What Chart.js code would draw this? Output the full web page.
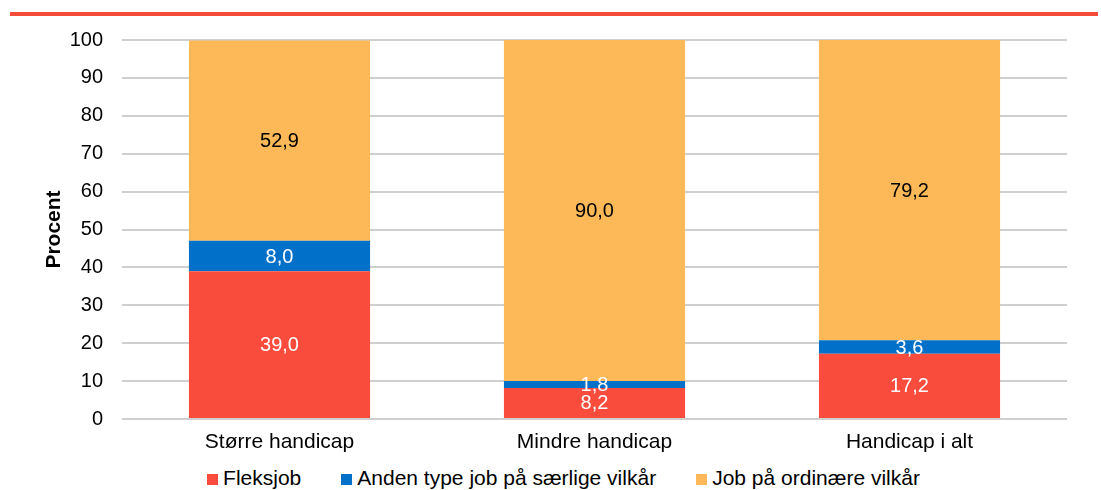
<!DOCTYPE html>
<html>
<head>
<meta charset="utf-8">
<script src="https://cdn.jsdelivr.net/npm/chart.js@4/dist/chart.umd.min.js"></script>
<style>
  html, body { margin: 0; padding: 0; background: #fff; overflow: hidden; }
  body { font-family: 'Liberation Sans', Arial, sans-serif; }
  .topline { position: absolute; left: 10px; top: 12px; width: 1088px; height: 4px; background: #f44b3b; }
  .wrap { position: absolute; left: 0; top: 0; width: 1101px; height: 460px; }
  #legend {
    position: absolute; left: 30px; top: 465px; width: 1067px; height: 26px;
    display: flex; justify-content: center; align-items: center;
    font-size: 21px; line-height: 26px; color: #000; white-space: nowrap;
  }
  #legend .item { display: flex; align-items: center; margin: 0 20px; }
  #legend .box { width: 11px; height: 11px; margin-right: 5px; margin-top: 3px; }
</style>
</head>
<body>
<div class="topline"></div>
<div class="wrap"><canvas id="chart"></canvas></div>
<div id="legend"></div>
<script>
// ---------- data ----------
const categories = ["Større handicap", "Mindre handicap", "Handicap i alt"];
const fleksjob = [39.0, 8.2, 17.2];
const andenType = [8.0, 1.8, 3.6];
const ordinaer = [52.9, 90.0, 79.2];
const yTicks = [0, 10, 20, 30, 40, 50, 60, 70, 80, 90, 100];

const FONT = "'Liberation Sans', Arial, sans-serif";

// værdier midt i hvert segment
const barLabels = {
  id: "barLabels",
  afterDatasetsDraw(chart) {
    const ctx = chart.ctx;
    ctx.save();
    ctx.font = "20px " + FONT;
    ctx.textAlign = "center";
    ctx.textBaseline = "middle";
    chart.data.datasets.forEach((ds, i) => {
      const meta = chart.getDatasetMeta(i);
      meta.data.forEach((bar, j) => {
        const v = ds.data[j];
        const y = (bar.y + bar.base) / 2;
        ctx.fillStyle = ds.labelColor;
        ctx.fillText(v.toFixed(1).replace(".", ","), bar.x, y + 1);
      });
    });
    ctx.restore();
  },
};

const ctx = document.getElementById("chart").getContext("2d");
const chart = new Chart(ctx, {
  type: "bar",
  data: {
    labels: categories,
    datasets: [
      {
        label: "Fleksjob",
        data: fleksjob,
        backgroundColor: "#f94c3c",
        labelColor: "#ffffff",
      },
      {
        label: "Anden type job på særlige vilkår",
        data: andenType,
        backgroundColor: "#0070c9",
        labelColor: "#ffffff",
      },
      {
        label: "Job på ordinære vilkår",
        data: ordinaer,
        backgroundColor: "#fdb858",
        labelColor: "#000000",
      },
    ],
  },
  options: {
    responsive: true,
    maintainAspectRatio: false,
    animation: false,
    layout: { padding: { left: 42, right: 34, top: 40, bottom: 0 } },
    datasets: {
      bar: { categoryPercentage: 1.0, barPercentage: 0.575 },
    },
    plugins: {
      legend: { display: false },
      tooltip: { enabled: false },
    },
    scales: {
      x: {
        stacked: true,
        grid: { display: false, drawTicks: false },
        border: { display: false },
        afterFit(axis) {
          axis.height = 41;
        },
        ticks: {
          color: "#000",
          padding: 11,
          maxRotation: 0,
          font: { family: FONT, size: 21 },
        },
      },
      y: {
        stacked: true,
        min: 0,
        max: 100,
        afterBuildTicks(axis) {
          axis.ticks = yTicks.map((v) => ({ value: v }));
        },
        afterFit(axis) {
          axis.width = 80;
        },
        grid: { color: "#cfcfcf", lineWidth: 2, drawTicks: false },
        border: { display: false },
        ticks: {
          color: "#000",
          padding: 19,
          font: { family: FONT, size: 20 },
        },
        title: {
          display: true,
          text: "Procent",
          color: "#000",
          padding: 0,
          font: { family: FONT, size: 21, weight: "bold" },
        },
      },
    },
  },
  plugins: [barLabels],
});

// legende som html
const legendEl = document.getElementById("legend");
chart.data.datasets.forEach((ds) => {
  const item = document.createElement("div");
  item.className = "item";
  const box = document.createElement("span");
  box.className = "box";
  box.style.background = ds.backgroundColor;
  const txt = document.createElement("span");
  txt.textContent = ds.label;
  item.appendChild(box);
  item.appendChild(txt);
  legendEl.appendChild(item);
});
</script>
</body>
</html>
